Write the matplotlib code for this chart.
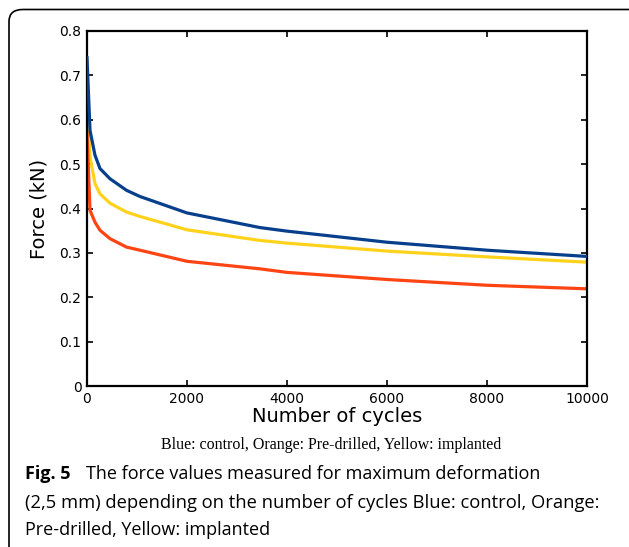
import numpy as np
import matplotlib.pyplot as plt
from matplotlib.patches import FancyBboxPatch

cycles = [0, 60, 160, 260, 460, 790, 1060, 2000, 3460, 4000, 6000, 8000, 10000]
blue = [0.74, 0.576, 0.52, 0.49, 0.467, 0.441, 0.427, 0.39, 0.357, 0.349, 0.324, 0.306, 0.292]
yellow = [0.66, 0.516, 0.456, 0.433, 0.412, 0.392, 0.382, 0.352, 0.328, 0.322, 0.304, 0.291, 0.279]
orange = [0.57, 0.396, 0.369, 0.351, 0.332, 0.313, 0.306, 0.281, 0.264, 0.256, 0.240, 0.227, 0.219]

xticks = [0, 2000, 4000, 6000, 8000, 10000]
yticks = [0, 0.1, 0.2, 0.3, 0.4, 0.5, 0.6, 0.7, 0.8]
yticklabels = ['0', '0.1', '0.2', '0.3', '0.4', '0.5', '0.6', '0.7', '0.8']

W, H = 629, 547
fig = plt.figure(figsize=(W/100, H/100), dpi=100)
ax = fig.add_axes([87/W, 1-386/H, 500/W, 355/H])

ax.plot(cycles, blue, color='#073f8c', lw=2.3, zorder=3)
ax.plot(cycles, yellow, color='#ffd21c', lw=2.3, zorder=2)
ax.plot(cycles, orange, color='#ff4414', lw=2.3, zorder=2)

ax.set_xlim(0, 10000)
ax.set_ylim(0, 0.8)
ax.set_xticks(xticks)
ax.set_yticks(yticks)
ax.set_yticklabels(yticklabels)
ax.tick_params(direction='in', top=True, right=True, length=4, width=1.2, labelsize=10, pad=4)
for s in ax.spines.values():
    s.set_linewidth(1.6)
ax.set_xlabel('Number of cycles', fontsize=14, labelpad=1)
ax.set_ylabel('Force (kN)', fontsize=14, labelpad=8)

# rounded frame around the figure
box = FancyBboxPatch((9/W, -30/H), 700/W, (H-9.5+30)/H,
                     boxstyle='round,pad=0,rounding_size=0.022',
                     transform=fig.transFigure, fill=False, lw=1.2,
                     edgecolor='black', clip_on=False)
fig.patches.append(box)

fig.text(331/W, 1-445/H, 'Blue: control, Orange: Pre-drilled, Yellow: implanted',
         family='Liberation Serif', fontsize=11.5, ha='center', va='center')

cap = 'Open Sans'
fig.text(25/W, 1-474/H, 'Fig. 5', family=cap, fontsize=13, fontweight='bold', va='center')
fig.text(86/W, 1-474/H, 'The force values measured for maximum deformation',
         family=cap, fontsize=13, va='center')
fig.text(25/W, 1-503/H, '(2,5 mm) depending on the number of cycles Blue: control, Orange:',
         family=cap, fontsize=13.2, va='center')
fig.text(25/W, 1-530/H, 'Pre-drilled, Yellow: implanted',
         family=cap, fontsize=13, va='center')

fig.savefig('out.png', dpi=100)
